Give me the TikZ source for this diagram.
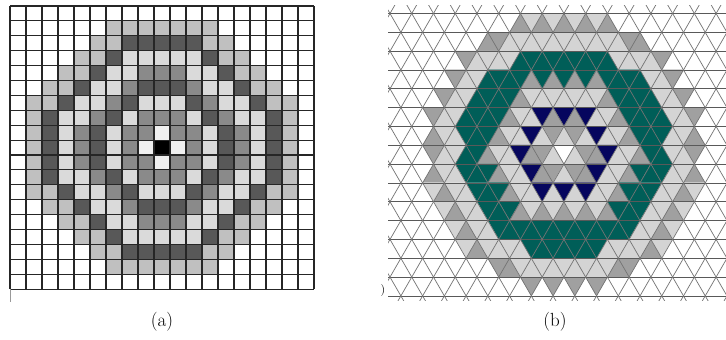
\documentclass[tikz,border=0pt]{standalone}
\usepackage{xcolor}
\usepackage{tikz}
\definecolor{SqLight}{RGB}{218,218,218}
\definecolor{SqBand}{RGB}{192,192,192}
\definecolor{SqMid}{RGB}{138,138,138}
\definecolor{SqDark}{RGB}{88,88,88}
\definecolor{SqPale}{RGB}{240,240,240}
\definecolor{TriLight}{RGB}{212,212,212}
\definecolor{TriGray}{RGB}{160,160,160}
\definecolor{TriTeal}{RGB}{0,94,88}
\definecolor{TriNavy}{RGB}{6,6,94}
\colorlet{sqW}{white}
\colorlet{sqA}{SqLight}
\colorlet{sqB}{SqBand}
\colorlet{sqM}{SqMid}
\colorlet{sqD}{SqDark}
\colorlet{sqE}{SqPale}
\colorlet{sqK}{black}
\tikzset{
  sqline/.style={black!85, line width=1.1pt},
  triline/.style={black!55, line width=0.7pt},
  caption/.style={font=\fontsize{19}{21}\selectfont}
}
% one triangle of strip #1, half-step #2
\newcommand{\tricell}[3]{%
  \pgfmathsetmacro{\triX}{390+10.87*(#2)}%
  \pgfmathsetmacro{\triP}{mod((#1)+(#2),2)}%
  \pgfmathsetmacro{\triA}{13.5+18.827*((#1)+\triP)}%
  \pgfmathsetmacro{\triB}{13.5+18.827*((#1)+1-\triP)}%
  \fill[#3] (\triX,\triA) -- (\triX-10.87,\triB) -- (\triX+10.87,\triB) -- cycle;}
% upper third of the star, left half mirrored to the right
\newcommand{\trisector}{%
  \foreach \r/\m in {0/12,0/14,0/16,1/9,1/10,2/7,3/6,3/13,3/15,4/5,4/12,
      5/4,5/11,5/15,6/4,6/10,6/15,7/4,7/9,7/13,7/14}
    {\tricell{\r}{\m}{TriGray}\tricell{\r}{32-\m}{TriGray}}
  \foreach \r/\m in {0/13,0/15,1/11,1/12,1/13,1/14,1/15,1/16,2/8,2/9,2/10,2/11,
      3/7,3/8,4/6,4/7,4/13,4/14,4/15,4/16,5/5,5/6,5/12,5/13,6/5,6/6,6/11,
      6/12,6/14,6/16,7/5,7/6,7/10,7/11,7/15}
    {\tricell{\r}{\m}{TriLight}\tricell{\r}{32-\m}{TriLight}}
  \foreach \r/\m in {2/12,2/13,2/14,2/15,2/16,3/9,3/10,3/11,3/12,3/14,3/16,
      4/8,4/9,4/10,4/11,5/7,5/8,5/9,5/10,6/7,6/8,6/9,7/7,7/8}
    {\tricell{\r}{\m}{TriTeal}\tricell{\r}{32-\m}{TriTeal}}
  \foreach \r/\m in {5/14,5/16,6/13,7/12}
    {\tricell{\r}{\m}{TriNavy}\tricell{\r}{32-\m}{TriNavy}}}

\begin{document}
\begin{tikzpicture}[x=1pt,y=-1pt]
  \path[use as bounding box] (0,0) rectangle (726,340);
  \fill[white] (0,0) rectangle (726,340);

  % (a) square lattice, upper half mirrored
  \foreach \r/\cells in {
    0/{W,W,W,W,W,W,W,W,W,W,W,W,W,W,W,W,W,W,W},
    1/{W,W,W,W,W,W,B,B,B,B,B,B,B,W,W,W,W,W,W},
    2/{W,W,W,W,W,B,B,D,D,D,D,D,B,B,W,W,W,W,W},
    3/{W,W,W,W,B,B,D,A,A,A,A,A,D,B,B,W,W,W,W},
    4/{W,W,W,B,B,D,A,A,M,M,M,A,A,D,B,B,W,W,W},
    5/{W,W,B,B,D,A,A,M,D,D,D,M,A,A,D,B,B,W,W},
    6/{W,B,B,D,A,A,M,D,A,A,A,D,M,A,A,D,B,B,W},
    7/{W,B,D,A,A,M,D,A,M,M,M,A,D,M,A,A,D,B,W},
    8/{W,B,D,A,M,D,A,M,M,E,M,M,A,D,M,A,D,B,W},
    9/{W,B,D,A,M,D,A,M,E,K,E,M,A,D,M,A,D,B,W}}{
    \foreach \c [count=\k from 0] in \cells {
      \fill[sq\c] ({10+16*\k},{6+14.9*\r}) rectangle ++(16,14.9);
      \fill[sq\c] ({10+16*\k},{6+14.9*(18-\r)}) rectangle ++(16,14.9);
    }
  }
  \foreach \k in {0,...,19}{
    \draw[sqline] ({10+16*\k},6) -- ({10+16*\k},289.1);
    \draw[sqline] (10,{6+14.9*\k}) -- (314,{6+14.9*\k});
  }
  \draw[black!40, line width=0.8pt] (10,289.1) -- (10,302);

  % (b) triangular lattice, star turned three times round its centre
  \coordinate (hexc) at (563.92,151.37);
  \begin{scope}
    \clip (388,5) rectangle (726,300);
    \trisector
    \begin{scope}[rotate around={120:(hexc)}]\trisector\end{scope}
    \begin{scope}[rotate around={240:(hexc)}]\trisector\end{scope}
    \foreach \k in {0,...,15}
      \draw[triline, black!65] (380,{13.5+18.827*\k}) -- (730,{13.5+18.827*\k});
    \foreach \j in {-9,...,24}{
      \draw[triline] ({390+21.74*\j-10.87},-5.33) -- ++(10.87*18,18.827*18);
      \draw[triline] ({390+21.74*\j+10.87},-5.33) -- ++(-10.87*18,18.827*18);
    }
  \end{scope}

  \node[font=\fontsize{12}{12}\selectfont] (crop) at (383,291) {)};
  \node[caption] (capa) at (162,322) {(a)};
  \node[caption] (capb) at (555,322) {(b)};
\end{tikzpicture}
\end{document}
